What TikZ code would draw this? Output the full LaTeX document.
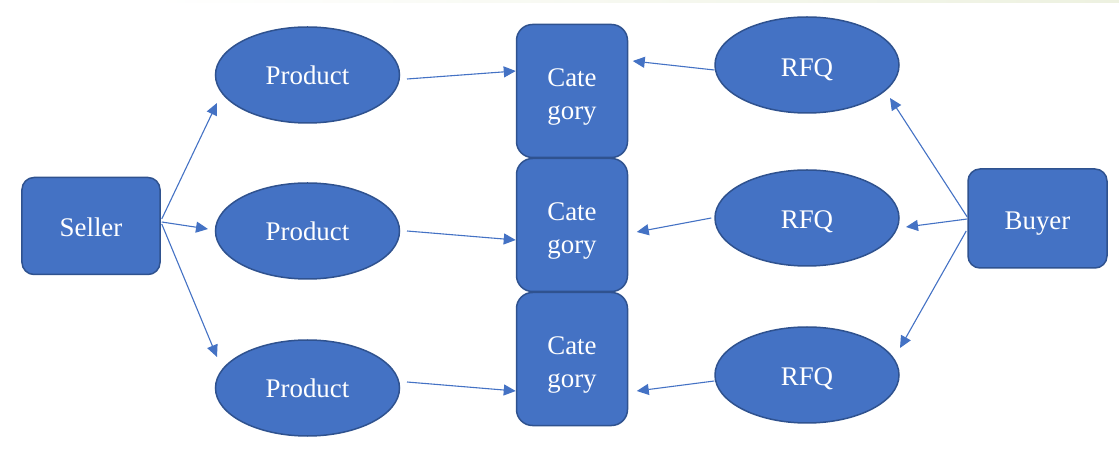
\documentclass[tikz,border=0pt]{standalone}
\usepackage{fontspec}
\setmainfont{Liberation Serif}
\usetikzlibrary{shapes.geometric,arrows.meta,calc}
\definecolor{boxfill}{HTML}{4472C4}
\definecolor{boxline}{HTML}{2F528F}
\definecolor{linkblue}{HTML}{4472C4}
\definecolor{topband}{HTML}{EDF1E0}
\begin{document}
\begin{tikzpicture}[x=1bp,y=-1bp,
  label font/.style={text=white, font=\fontsize{27}{33}\selectfont},
  party/.style={draw=boxline, line width=1.5bp, fill=boxfill, rounded corners=12bp,
    label font, minimum width=138bp, minimum height=97bp, inner sep=0pt},
  item/.style={ellipse, draw=boxline, line width=1.5bp, fill=boxfill,
    label font, minimum width=184bp, minimum height=96bp, inner sep=0pt},
  catbox/.style={draw=boxline, line width=1.5bp, fill=boxfill, rounded corners=16bp,
    minimum width=111bp, minimum height=133bp, inner sep=0pt,
    label={[label font, align=center, yshift=-6bp]center:Cate\\gory}},
  link/.style={draw=linkblue, line width=1.1bp, -{Triangle[length=12bp,width=11bp]}}]

\useasboundingbox (0,0) rectangle (1119,464);
\shade[left color=white, right color=topband] (150,0) rectangle (1119,3);

% parties
\node[party, text height=22bp, text depth=0bp] (seller) at (91,226) {Seller};
\node[party, minimum width=139bp, minimum height=99bp, text height=23bp, text depth=0bp]
  (buyer) at (1037.5,218.5) {Buyer};

% products
\node[item, text height=20bp, text depth=0bp] (p1) at (307.5,75) {Product};
\node[item, text height=20bp, text depth=0bp] (p2) at (307.5,231) {Product};
\node[item, text height=20bp, text depth=0bp] (p3) at (307.5,388) {Product};

% categories
\node[catbox] (c1) at (572,91) {};
\node[catbox] (c2) at (572,225) {};
\node[catbox] (c3) at (572,359) {};

% requests for quotation
\node[item, text height=23bp, text depth=0bp] (r1) at (807,65) {RFQ};
\node[item, text height=21bp, text depth=0bp] (r2) at (807,218) {RFQ};
\node[item, text height=21bp, text depth=0bp] (r3) at (807,375) {RFQ};

% seller to products
\draw[link] ($(seller.east)+(1,-7)$) -- ($(p1.center)+(-90.5,28)$);
\draw[link] ($(seller.east)+(1,-4)$) -- ($(p2.center)+(-99.5,-2)$);
\draw[link] ($(seller.east)+(1,-2)$) -- ($(p3.center)+(-90.5,-31)$);

% products to categories
\draw[link] ($(p1.center)+(99.5,4)$) -- ($(c1.west)+(0,-20)$);
\draw[link] ($(p2.center)+(99.5,0)$) -- ($(c2.west)+(0,15)$);
\draw[link] ($(p3.center)+(99.5,-6)$) -- ($(c3.west)+(0,32)$);

% requests to categories
\draw[link] ($(r1.west)+(0,5)$) -- ($(c1.east)+(4.5,-30)$);
\draw[link] ($(r2.west)+(-3,0)$) -- ($(c2.east)+(8.5,7)$);
\draw[link] ($(r3.west)+(0,6)$) -- ($(c3.east)+(8.5,32)$);

% buyer to requests
\draw[link] ($(buyer.west)+(0,-1.5)$) -- ($(r1.center)+(83,33)$);
\draw[link] ($(buyer.west)+(0,0.5)$) -- ($(r2.center)+(99,9)$);
\draw[link] ($(buyer.west)+(-1,12.5)$) -- ($(r3.center)+(93,-27)$);
\end{tikzpicture}
\end{document}
